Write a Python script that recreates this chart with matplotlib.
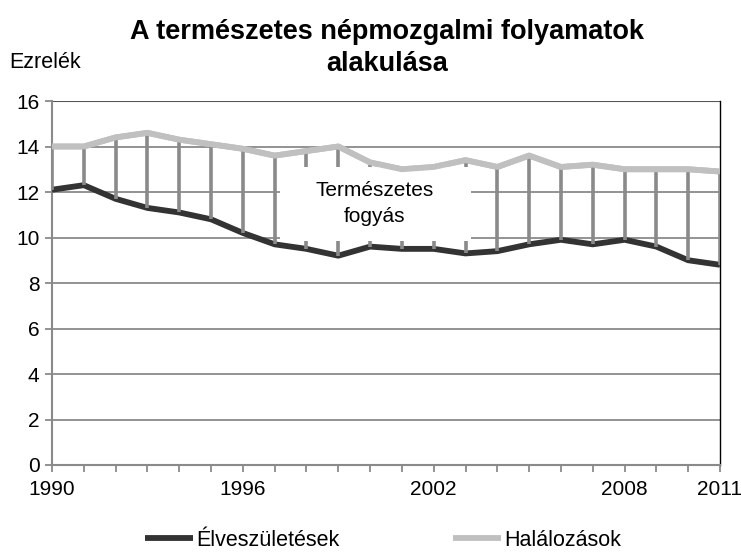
import matplotlib
matplotlib.use("Agg")
import matplotlib.pyplot as plt
from matplotlib.patches import Rectangle

plt.rcParams["font.family"] = ["Liberation Sans", "DejaVu Sans"]

# ── Data (per mille) ────────────────────────────────────────────────
years = list(range(1990, 2012))
births = [12.1, 12.3, 11.7, 11.3, 11.1, 10.8, 10.2, 9.7, 9.5, 9.2, 9.6,
          9.5, 9.5, 9.3, 9.4, 9.7, 9.9, 9.7, 9.9, 9.6, 9.0, 8.8]
deaths = [14.0, 14.0, 14.4, 14.6, 14.3, 14.1, 13.9, 13.6, 13.8, 14.0, 13.3,
          13.0, 13.1, 13.4, 13.1, 13.6, 13.1, 13.2, 13.0, 13.0, 13.0, 12.9]
year_labels = [1990, 1996, 2002, 2008, 2011]

BIRTH_COLOR = "#333333"
DEATH_COLOR = "#c0c0c0"
DROP_COLOR = "#8a8a8a"
GRID_COLOR = "#8a8a8a"

fig = plt.figure(figsize=(7.41, 5.53), dpi=100)
ax = fig.add_axes([52 / 741, 1 - 465 / 553, (720 - 52) / 741, (465 - 101) / 553])

# gridlines
for v in range(2, 16, 2):
    ax.axhline(v, color=GRID_COLOR, lw=1.3, zorder=1)
ax.axhline(16, color="#555555", lw=1.5, zorder=1)

# series lines
ax.plot(years, births, color=BIRTH_COLOR, lw=4.2, solid_capstyle="butt",
        zorder=3, label="Élveszületések")
ax.plot(years, deaths, color=DEATH_COLOR, lw=4.2, solid_capstyle="butt",
        zorder=3, label="Halálozások")

# high-low lines
ax.vlines(years, births, deaths, color=DROP_COLOR, lw=2.6, zorder=4)

# label box covering the middle
ax.add_patch(Rectangle((1997.17, 9.85), 6.0, 3.25, facecolor="white",
                       edgecolor="none", zorder=5))
ax.text(2000.15, 11.5, "Természetes\nfogyás", ha="center", va="center",
        fontsize=15, linespacing=1.45, zorder=6)
# death line on top of the box edge
ax.plot(years, deaths, color=DEATH_COLOR, lw=4.2, solid_capstyle="butt", zorder=5.5)

ax.set_xlim(1990, 2011)
ax.set_ylim(0, 16)
ax.set_yticks(range(0, 17, 2))
ax.set_xticks(year_labels)
ax.set_xticks(years, minor=True)
ax.tick_params(axis="both", which="both", direction="out", length=5,
               color=GRID_COLOR, width=1.3, labelsize=15, pad=6)
ax.tick_params(axis="y", pad=4)

for s in ["left", "bottom"]:
    ax.spines[s].set_color(GRID_COLOR)
    ax.spines[s].set_linewidth(1.5)
ax.spines["top"].set_visible(False)
ax.spines["right"].set_color("black")
ax.spines["right"].set_linewidth(1)
ax.spines["left"].set_zorder(2)

fig.text(387 / 741, 1 - 48 / 553, "A természetes népmozgalmi folyamatok\nalakulása",
         ha="center", va="center", fontsize=19.5, fontweight="bold", linespacing=1.3)
fig.text(9 / 741, 1 - 63 / 553, "Ezrelék", ha="left", va="center", fontsize=15.5)

handles, labels = ax.get_legend_handles_labels()
fig.legend(handles, labels, loc="center", bbox_to_anchor=(383 / 741, 1 - 540 / 553),
           ncol=2, frameon=False, fontsize=15.5, handlelength=2.2, handletextpad=0.15,
           columnspacing=5.3)

fig.savefig("out.png", dpi=100)
